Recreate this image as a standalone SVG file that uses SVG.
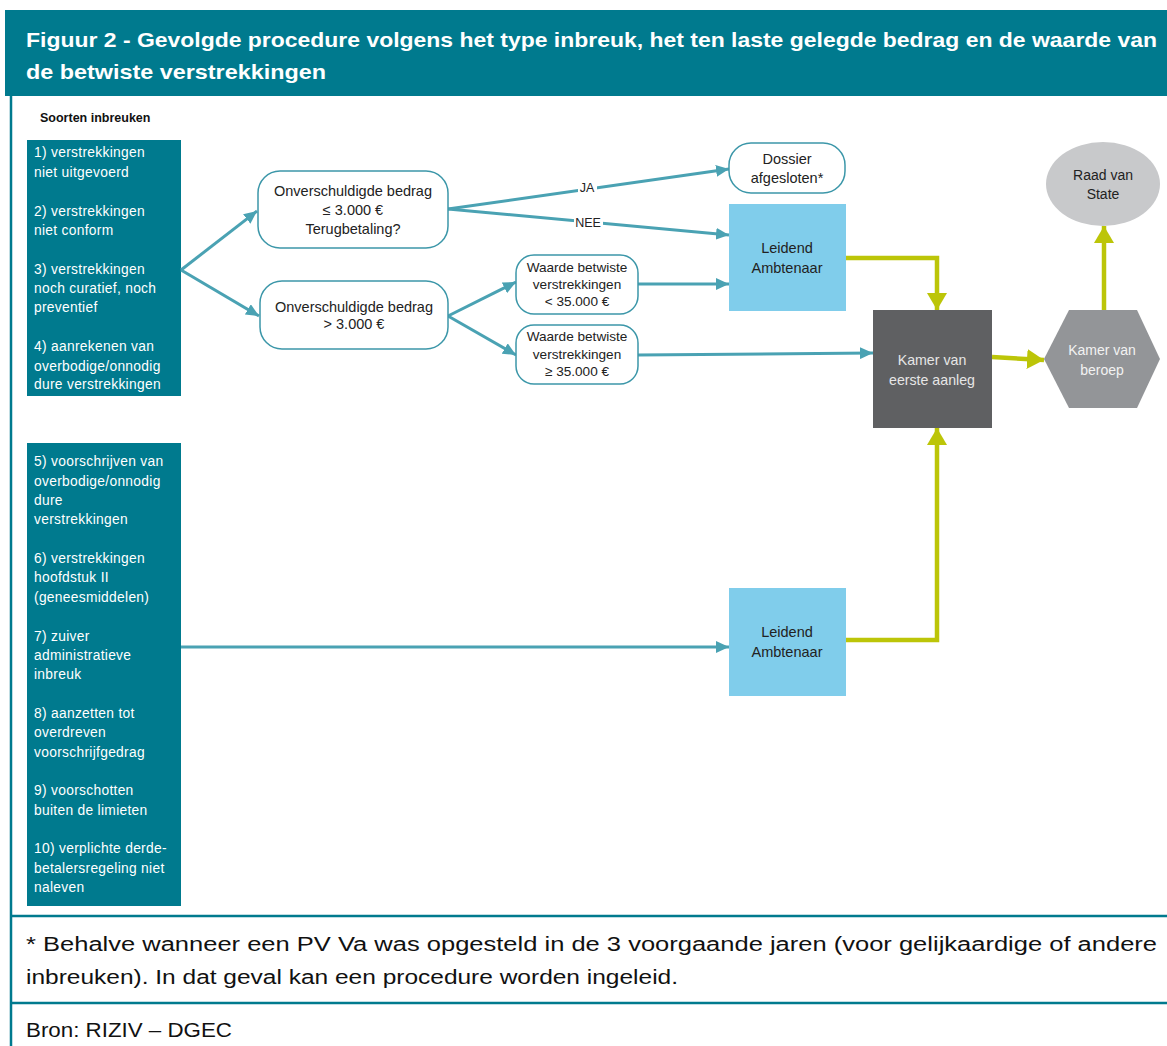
<svg xmlns="http://www.w3.org/2000/svg" width="1167" height="1046" viewBox="0 0 1167 1046">
<style>
text{font-family:"Liberation Sans",Arial,sans-serif}
.title{font-size:20.5px;font-weight:bold;fill:#fff}
.box{fill:#007a8e}
.bt{font-size:13.8px;fill:#fff;letter-spacing:0.3px}
.rr{fill:#fff;stroke:#3c97a9;stroke-width:1.5}
.nt{font-size:14.5px;fill:#222;text-anchor:middle}
.sm{font-size:13.6px;fill:#222;text-anchor:middle}
.tl{fill:none;stroke:#4aa2b3;stroke-width:3}
.yl{fill:none;stroke:#bcc508;stroke-width:4.5}
.lbl{font-size:12.5px;fill:#222;text-anchor:middle}
.fn{font-size:20px;fill:#111}
.rule{stroke:#007a8e;stroke-width:2.5}
</style>
<defs>
<marker id="ta" markerUnits="userSpaceOnUse" markerWidth="13" markerHeight="12" refX="13" refY="6" orient="auto"><path d="M0,0 L13,6 L0,12 z" fill="#4aa2b3"/></marker>
<marker id="ya" markerUnits="userSpaceOnUse" markerWidth="17" markerHeight="20" refX="17" refY="10" orient="auto"><path d="M0,0 L17,10 L0,20 z" fill="#bcc508"/></marker>
</defs>
<rect width="1167" height="1046" fill="#fff"/>
<g id="header">
<rect x="5" y="10" width="1162" height="86" fill="#007a8e"/>
<text class="title" x="26" y="47" textLength="1131" lengthAdjust="spacingAndGlyphs">Figuur 2 - Gevolgde procedure volgens het type inbreuk, het ten laste gelegde bedrag en de waarde van</text>
<text class="title" x="26" y="79" textLength="300" lengthAdjust="spacingAndGlyphs">de betwiste verstrekkingen</text>
</g>
<g id="frame">
<line class="rule" x1="11" y1="96" x2="11" y2="1046"/>
<line class="rule" x1="11" y1="916" x2="1167" y2="916"/>
<line class="rule" x1="11" y1="1003" x2="1167" y2="1003"/>
</g>
<text x="40" y="122" style="font-size:12.5px;font-weight:bold;fill:#111">Soorten inbreuken</text>
<g id="types1">
<rect class="box" x="27" y="140" width="154" height="256"/>
<text class="bt"><tspan x="34" y="157">1) verstrekkingen</tspan><tspan x="34" y="177">niet uitgevoerd</tspan><tspan x="34" y="216">2) verstrekkingen</tspan><tspan x="34" y="235">niet conform</tspan><tspan x="34" y="274">3) verstrekkingen</tspan><tspan x="34" y="293">noch curatief, noch</tspan><tspan x="34" y="312">preventief</tspan><tspan x="34" y="351">4) aanrekenen van</tspan><tspan x="34" y="371">overbodige/onnodig</tspan><tspan x="34" y="389">dure verstrekkingen</tspan></text>
</g>
<g id="types2">
<rect class="box" x="27" y="443" width="154" height="463"/>
<text class="bt"><tspan x="34" y="466">5) voorschrijven van</tspan><tspan x="34" y="486">overbodige/onnodig</tspan><tspan x="34" y="505">dure</tspan><tspan x="34" y="524">verstrekkingen</tspan><tspan x="34" y="563">6) verstrekkingen</tspan><tspan x="34" y="582">hoofdstuk II</tspan><tspan x="34" y="602">(geneesmiddelen)</tspan><tspan x="34" y="641">7) zuiver</tspan><tspan x="34" y="660">administratieve</tspan><tspan x="34" y="679">inbreuk</tspan><tspan x="34" y="718">8) aanzetten tot</tspan><tspan x="34" y="737">overdreven</tspan><tspan x="34" y="757">voorschrijfgedrag</tspan><tspan x="34" y="795">9) voorschotten</tspan><tspan x="34" y="815">buiten de limieten</tspan><tspan x="34" y="853">10) verplichte derde-</tspan><tspan x="34" y="873">betalersregeling niet</tspan><tspan x="34" y="892">naleven</tspan></text>
</g>
<g id="connectors">
<line class="tl" x1="181" y1="270" x2="257" y2="211" marker-end="url(#ta)"/>
<line class="tl" x1="181" y1="270" x2="259" y2="316" marker-end="url(#ta)"/>
<line class="tl" x1="448" y1="209" x2="729" y2="169" marker-end="url(#ta)"/>
<line class="tl" x1="448" y1="209" x2="729" y2="235" marker-end="url(#ta)"/>
<line class="tl" x1="448" y1="316" x2="516" y2="282" marker-end="url(#ta)"/>
<line class="tl" x1="448" y1="316" x2="516" y2="355" marker-end="url(#ta)"/>
<line class="tl" x1="638" y1="284" x2="729" y2="284" marker-end="url(#ta)"/>
<line class="tl" x1="638" y1="355" x2="873" y2="353" marker-end="url(#ta)"/>
<line class="tl" x1="181" y1="647" x2="729" y2="647" marker-end="url(#ta)"/>
<rect x="578" y="181" width="19" height="13" fill="#fff"/>
<text class="lbl" x="587" y="192">JA</text>
<rect x="574" y="216" width="29" height="13" fill="#fff"/>
<text class="lbl" x="588" y="227">NEE</text>
<path class="yl" d="M846,258 H937 V310" marker-end="url(#ya)"/>
<path class="yl" d="M846,640 H937 V428" marker-end="url(#ya)"/>
<line class="yl" x1="992" y1="357" x2="1044" y2="360" marker-end="url(#ya)"/>
<line class="yl" x1="1104" y1="310" x2="1104" y2="226" marker-end="url(#ya)"/>
</g>
<g id="n-le3000">
<rect class="rr" x="258" y="171" width="190" height="77" rx="22"/>
<text class="nt"><tspan x="353" y="196">Onverschuldigde bedrag</tspan><tspan x="353" y="215">≤ 3.000 €</tspan><tspan x="353" y="234">Terugbetaling?</tspan></text>
</g>
<g id="n-gt3000">
<rect class="rr" x="260" y="281" width="188" height="68" rx="22"/>
<text class="nt"><tspan x="354" y="312">Onverschuldigde bedrag</tspan><tspan x="354" y="329">&gt; 3.000 €</tspan></text>
</g>
<g id="n-dossier">
<rect class="rr" x="729" y="143" width="116" height="50" rx="22"/>
<text class="nt"><tspan x="787" y="164">Dossier</tspan><tspan x="787" y="183">afgesloten*</tspan></text>
</g>
<g id="n-leidend1">
<rect x="729" y="204" width="117" height="107" fill="#80cdeb"/>
<text class="nt"><tspan x="787" y="253">Leidend</tspan><tspan x="787" y="273">Ambtenaar</tspan></text>
</g>
<g id="n-lt35000">
<rect class="rr" x="516" y="255" width="122" height="59" rx="18"/>
<text class="sm"><tspan x="577" y="272">Waarde betwiste</tspan><tspan x="577" y="289">verstrekkingen</tspan><tspan x="577" y="306">&lt; 35.000 €</tspan></text>
</g>
<g id="n-ge35000">
<rect class="rr" x="516" y="325" width="122" height="59" rx="18"/>
<text class="sm"><tspan x="577" y="341">Waarde betwiste</tspan><tspan x="577" y="359">verstrekkingen</tspan><tspan x="577" y="376">≥ 35.000 €</tspan></text>
</g>
<g id="n-kamer1">
<rect x="873" y="310" width="119" height="118" fill="#5f6062"/>
<text class="nt" style="fill:#e6e6e6;font-size:14.2px"><tspan x="932" y="365">Kamer van</tspan><tspan x="932" y="385">eerste aanleg</tspan></text>
</g>
<g id="n-beroep">
<polygon points="1044,359 1069,310 1137,310 1160,359 1137,408 1069,408" fill="#939598"/>
<text class="nt" style="fill:#f2f2f2;font-size:14px"><tspan x="1102" y="355">Kamer van</tspan><tspan x="1102" y="375">beroep</tspan></text>
</g>
<g id="n-raad">
<ellipse cx="1103" cy="184" rx="57" ry="42" fill="#c8c9cb"/>
<text class="nt" style="font-size:14px"><tspan x="1103" y="180">Raad van</tspan><tspan x="1103" y="199">State</tspan></text>
</g>
<g id="n-leidend2">
<rect x="729" y="588" width="117" height="108" fill="#80cdeb"/>
<text class="nt"><tspan x="787" y="637">Leidend</tspan><tspan x="787" y="657">Ambtenaar</tspan></text>
</g>
<g id="footnote">
<text class="fn" x="26" y="951" textLength="1131" lengthAdjust="spacingAndGlyphs">* Behalve wanneer een PV Va was opgesteld in de 3 voorgaande jaren (voor gelijkaardige of andere</text>
<text class="fn" x="26" y="984" textLength="652" lengthAdjust="spacingAndGlyphs">inbreuken). In dat geval kan een procedure worden ingeleid.</text>
<text class="fn" x="26" y="1037" textLength="206" lengthAdjust="spacingAndGlyphs">Bron: RIZIV – DGEC</text>
</g>
</svg>
